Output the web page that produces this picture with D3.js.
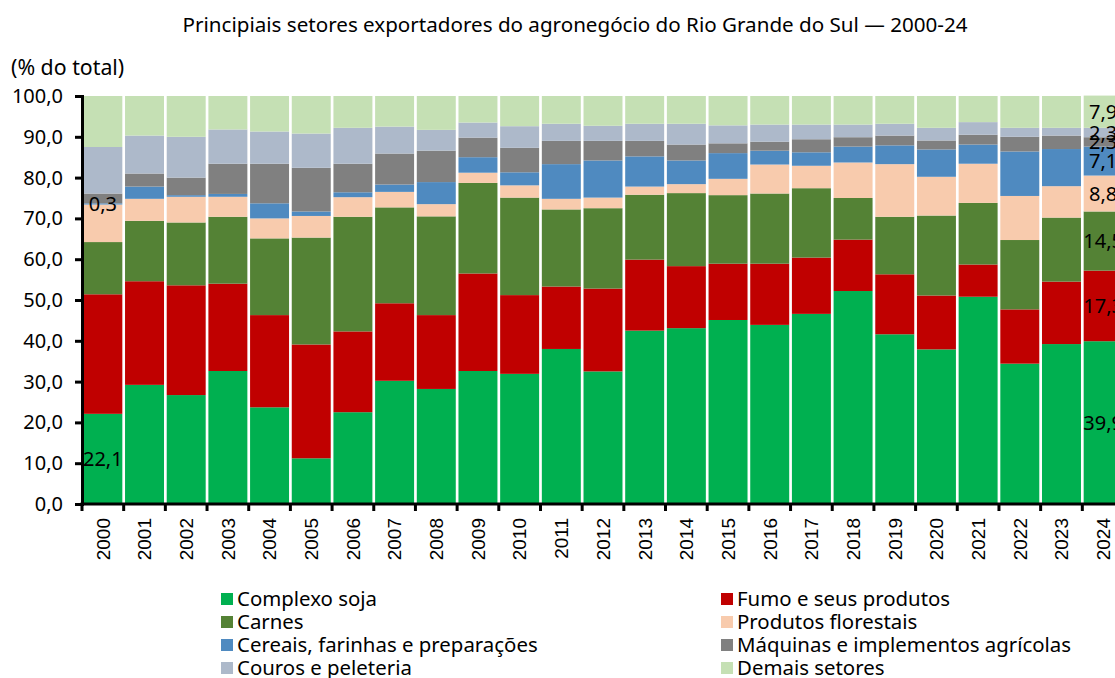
<!DOCTYPE html>
<html>
<head>
	<meta charset="utf-8">
	<title>Setores exportadores do agronegócio RS</title>
	<script src="https://cdn.jsdelivr.net/npm/d3@7"></script>
	<style type="text/css">
	html, body{
		margin:0;
		background:#fff;
	}
	svg text{
		font-family: "Noto Sans", "Open Sans", sans-serif;
		fill:#000;
	}
	.year text{
		font-family: "Liberation Sans", Arial, sans-serif;
	}
	</style>
</head>
<body>
<div id="chart"></div>
<script type="text/javascript">

var years = ["2000","2001","2002","2003","2004","2005","2006","2007","2008","2009","2010","2011","2012","2013","2014","2015","2016","2017","2018","2019","2020","2021","2022","2023","2024"];

var soja = [22.1, 29.2, 26.7, 32.6, 23.7, 11.2, 22.5, 30.2, 28.2, 32.6, 31.9, 38.0, 32.5, 42.5, 43.1, 45.1, 43.9, 46.6, 52.2, 41.6, 37.9, 50.8, 34.4, 39.2, 39.9];
var fumo = [29.3, 25.4, 26.9, 21.4, 22.6, 27.9, 19.8, 19.0, 18.1, 23.9, 19.3, 15.3, 20.3, 17.4, 15.2, 13.8, 15.0, 13.8, 12.6, 14.7, 13.2, 7.9, 13.3, 15.3, 17.3];
var carnes = [12.8, 14.8, 15.4, 16.4, 18.8, 26.2, 28.1, 23.5, 24.2, 22.2, 23.9, 18.9, 19.7, 15.9, 17.9, 16.8, 17.2, 17.0, 10.2, 14.1, 19.6, 15.1, 17.0, 15.7, 14.5];
var florestais = [9.2, 5.4, 6.3, 4.9, 4.9, 5.3, 4.8, 3.8, 3.0, 2.5, 3.0, 2.6, 2.6, 2.0, 2.2, 4.0, 7.1, 5.5, 8.7, 12.9, 9.5, 9.6, 10.8, 7.7, 8.8];
var cereais = [0.3, 3.0, 0.4, 0.7, 3.7, 1.1, 1.2, 1.8, 5.4, 3.8, 3.2, 8.5, 9.1, 7.4, 5.8, 6.3, 3.4, 3.3, 3.9, 4.6, 6.7, 4.7, 10.9, 9.1, 7.1];
var maquinas = [2.4, 3.2, 4.3, 7.4, 9.7, 10.7, 7.0, 7.6, 7.7, 4.8, 6.0, 5.7, 4.8, 3.8, 3.9, 2.4, 2.2, 3.2, 2.3, 2.4, 2.2, 2.4, 3.6, 3.3, 2.3];
var couros = [11.4, 9.3, 10.0, 8.4, 7.9, 8.4, 8.8, 6.6, 5.1, 3.7, 5.3, 4.2, 3.7, 4.2, 5.1, 4.4, 4.2, 3.6, 3.1, 2.9, 3.1, 3.1, 2.2, 1.9, 2.3];
var demais = [12.5, 9.7, 10.0, 8.2, 8.7, 9.2, 7.8, 7.5, 8.3, 6.5, 7.4, 6.8, 7.3, 6.8, 6.8, 7.2, 7.0, 7.0, 7.0, 6.8, 7.8, 6.4, 7.8, 7.8, 7.9];

var seriesNames = ["Complexo soja", "Fumo e seus produtos", "Carnes", "Produtos florestais", "Cereais, farinhas e preparações", "Máquinas e implementos agrícolas", "Couros e peleteria", "Demais setores"];
var seriesValues = [soja, fumo, carnes, florestais, cereais, maquinas, couros, demais];
var seriesColors = ["#00B050", "#C00000", "#548235", "#F8CBAD", "#4F8AC0", "#808080", "#ADB9CA", "#C5E0B4"];
var legendOrder = [0, 2, 4, 6, 1, 3, 5, 7];
var yTicks = [0, 10, 20, 30, 40, 50, 60, 70, 80, 90, 100];

// which data labels are shown: [year index, series index]
var shownLabels = [[0,0],[0,4],[24,0],[24,1],[24,2],[24,3],[24,4],[24,5],[24,6],[24,7]];

var W = 1115, H = 678;

var svg = d3.select("#chart").append("svg")
	.attr("width", W).attr("height", H);

var x = d3.scaleBand().domain(years).range([82, 1124]).paddingInner(0.065).paddingOuter(0.0325);
var y = d3.scaleLinear().domain([0, 100]).range([504, 96]);

var table = years.map(function(yr, i){
	var row = {year: yr};
	seriesNames.forEach(function(n, k){ row[n] = seriesValues[k][i]; });
	return row;
});

var stacked = d3.stack().keys(seriesNames)(table);
var fmt = function(v){ return d3.format(".1f")(v).replace(".", ","); };

svg.append("text")
	.attr("x", 575).attr("y", 32)
	.attr("text-anchor", "middle")
	.style("font-size", "20.6px")
	.text("Principiais setores exportadores do agronegócio do Rio Grande do Sul — 2000-24");

svg.append("text")
	.attr("x", 11).attr("y", 75)
	.style("font-size", "21.3px")
	.text("(% do total)");

var g = svg.append("g");
g.selectAll("g.layer")
	.data(stacked)
	.enter().append("g")
	.attr("class", "layer")
	.attr("fill", function(d, k){ return seriesColors[k]; })
	.selectAll("rect")
	.data(function(d){ return d; })
	.enter().append("rect")
	.attr("x", function(d){ return x(d.data.year); })
	.attr("width", x.bandwidth())
	.attr("y", function(d){ return y(d[1]); })
	.attr("height", function(d){ return y(d[0]) - y(d[1]); });

// y axis
var yAxis = svg.append("g")
	.attr("transform", "translate(82,0)")
	.call(d3.axisLeft(y).tickValues(yTicks).tickSize(7).tickPadding(12).tickFormat(fmt));
yAxis.select(".domain").attr("stroke", "#000").attr("stroke-width", 3);
yAxis.selectAll(".tick line").attr("stroke", "#000").attr("stroke-width", 3);
yAxis.selectAll(".tick text").style("font-size", "20px").style("font-family", "Noto Sans");

// x axis, ticks between years
var bounds = years.map(function(yr){ return x(yr) - x.step() * x.paddingInner() / 2; });
var xAxis = svg.append("g");
xAxis.append("line")
	.attr("x1", 80.5).attr("x2", W)
	.attr("y1", 504).attr("y2", 504)
	.attr("stroke", "#000").attr("stroke-width", 3);
xAxis.selectAll("line.tk")
	.data(bounds)
	.enter().append("line")
	.attr("class", "tk")
	.attr("x1", function(d){ return d; }).attr("x2", function(d){ return d; })
	.attr("y1", 504).attr("y2", 511)
	.attr("stroke", "#000").attr("stroke-width", 3);
xAxis.append("g").attr("class", "year")
	.selectAll("text")
	.data(years)
	.enter().append("text")
	.attr("transform", function(d){ return "translate(" + (x(d) + x.bandwidth() / 2) + ",518) rotate(-90)"; })
	.attr("text-anchor", "end")
	.attr("dy", "0.36em")
	.style("font-size", "19px")
	.text(function(d){ return d; });

// data labels
svg.append("g").selectAll("text")
	.data(shownLabels)
	.enter().append("text")
	.attr("x", function(d){ return x(years[d[0]]) + x.bandwidth() / 2; })
	.attr("y", function(d){ var s = stacked[d[1]][d[0]]; return y((s[0] + s[1]) / 2); })
	.attr("dy", "0.36em")
	.attr("text-anchor", "middle")
	.style("font-size", "20px")
	.text(function(d){ return fmt(seriesValues[d[1]][d[0]]); });

// legend
var legend = svg.append("g").selectAll("g")
	.data(legendOrder)
	.enter().append("g")
	.attr("transform", function(k, i){
		var col = i < 4 ? 0 : 1, row = i % 4;
		return "translate(" + (col ? 721 : 221) + "," + (599 + row * 23) + ")";
	});
legend.append("rect")
	.attr("x", 0).attr("y", -6).attr("width", 12).attr("height", 12)
	.attr("fill", function(k){ return seriesColors[k]; });
legend.append("text")
	.attr("x", 16).attr("dy", "0.36em")
	.style("font-size", "20.4px")
	.text(function(k){ return seriesNames[k]; });

</script>
</body>
</html>
